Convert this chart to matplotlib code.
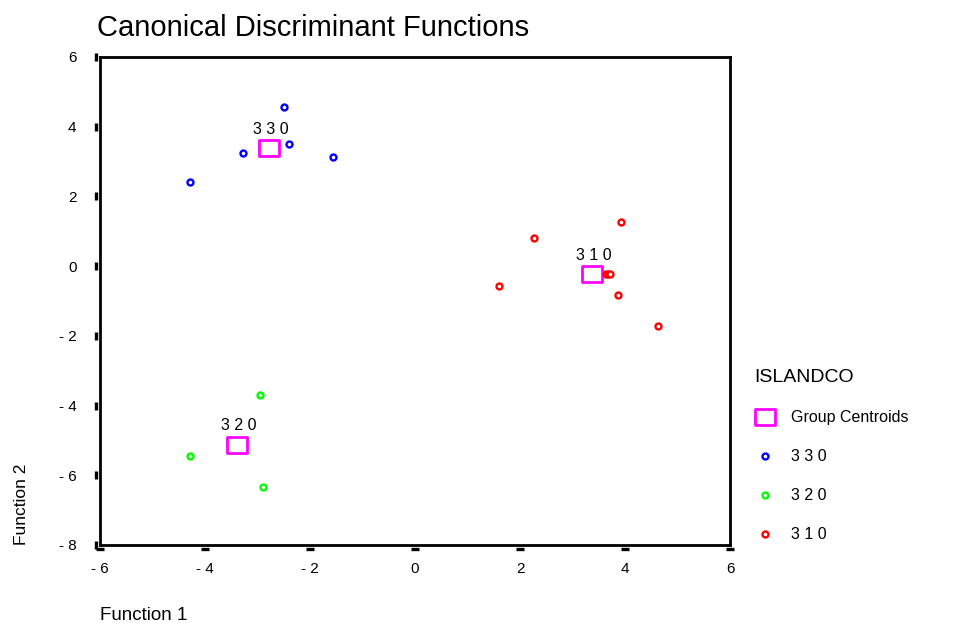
import numpy as np
import matplotlib.pyplot as plt
from matplotlib.path import Path
import matplotlib.transforms as mtransforms

plt.rcParams['font.family'] = ['Liberation Sans', 'DejaVu Sans']

# Data
groups = ['330', '320', '310']
colors = ['#0000ff', '#00ff00', '#ff0000']
f1_330 = [-2.50, -3.28, -2.40, -1.56, -4.29]
f2_330 = [4.57, 3.25, 3.51, 3.13, 2.42]
f1_320 = [-2.95, -4.29, -2.90]
f2_320 = [-3.71, -5.46, -6.35]
f1_310 = [2.27, 3.92, 1.60, 3.64, 3.68, 3.72, 3.87, 4.63]
f2_310 = [0.81, 1.27, -0.56, -0.22, -0.22, -0.22, -0.82, -1.71]
cent_f1 = [-2.78, -3.39, 3.37]
cent_f2 = [3.39, -5.12, -0.22]
xticks = [-6, -4, -2, 0, 2, 4, 6]
yticks = [-8, -6, -4, -2, 0, 2, 4, 6]

fig = plt.figure(figsize=(9.73, 6.26), dpi=100)
ax = fig.add_axes([0.1028, 0.1294, 0.6475, 0.7796])

# rectangle marker for the centroids
rect = Path([(-1.3, -1), (1.3, -1), (1.3, 1), (-1.3, 1), (-1.3, -1)],
            [Path.MOVETO, Path.LINETO, Path.LINETO, Path.LINETO, Path.CLOSEPOLY])

cent = ax.plot(cent_f1, cent_f2, ls='none', marker=rect, markersize=15,
               mfc='none', mec='#ff00ff', mew=2, label='Group Centroids')[0]
xs = [f1_330, f1_320, f1_310]
ys = [f2_330, f2_320, f2_310]
handles = [cent]
for g, c, x, y in zip(groups, colors, xs, ys):
    h = ax.plot(x, y, ls='none', marker='o', markersize=4.3, mfc='white',
                mec=c, mew=1.7, label=' '.join(g))[0]
    handles.append(h)

for g, x, y in zip(groups, cent_f1, cent_f2):
    ax.annotate(' '.join(g), (x, y), xytext=(1, 8), textcoords='offset points',
                ha='center', va='bottom', fontsize=11.5)

ax.set_xlim(-6, 6)
ax.set_ylim(-8, 6)
ax.set_xticks(xticks)
ax.set_yticks(yticks)
ax.set_xticklabels([('- %d' % -v) if v < 0 else str(v) for v in xticks], fontsize=11)
ax.set_yticklabels([('- %d' % -v) if v < 0 else str(v) for v in yticks], fontsize=11)
ax.tick_params(axis='x', length=0, pad=12)
ax.tick_params(axis='y', length=0, pad=17)
for s in ax.spines.values():
    s.set_linewidth(2)

# little dash-like tick marks
tx = mtransforms.blended_transform_factory(ax.transData, ax.transAxes)
ty = mtransforms.blended_transform_factory(ax.transAxes, ax.transData)
ax.plot(xticks, [-0.008] * len(xticks), ls='none', marker='_', markersize=6,
        mew=2.4, color='black', transform=tx, clip_on=False)
ax.plot([-0.007] * len(yticks), yticks, ls='none', marker='|', markersize=6,
        mew=2.4, color='black', transform=ty, clip_on=False)

fig.text(97 / 973, 1 - 28 / 626, 'Canonical Discriminant Functions',
         fontsize=21, ha='left', va='center')
fig.text(100 / 973, 1 - 615 / 626, 'Function 1', fontsize=13.5, ha='left', va='center')
fig.text(22 / 973, 1 - 545 / 626, 'Function 2', fontsize=12.5, ha='center',
         va='bottom', rotation=90)

leg = fig.legend(handles=handles, loc='upper left', bbox_to_anchor=(740 / 973, 1 - 355 / 626),
                 frameon=False, title='ISLANDCO', alignment='left', fontsize=11.5,
                 title_fontsize=14, labelspacing=1.5, handlelength=1.3, handletextpad=1.0)

fig.savefig('out.png', dpi=100, facecolor='white')
